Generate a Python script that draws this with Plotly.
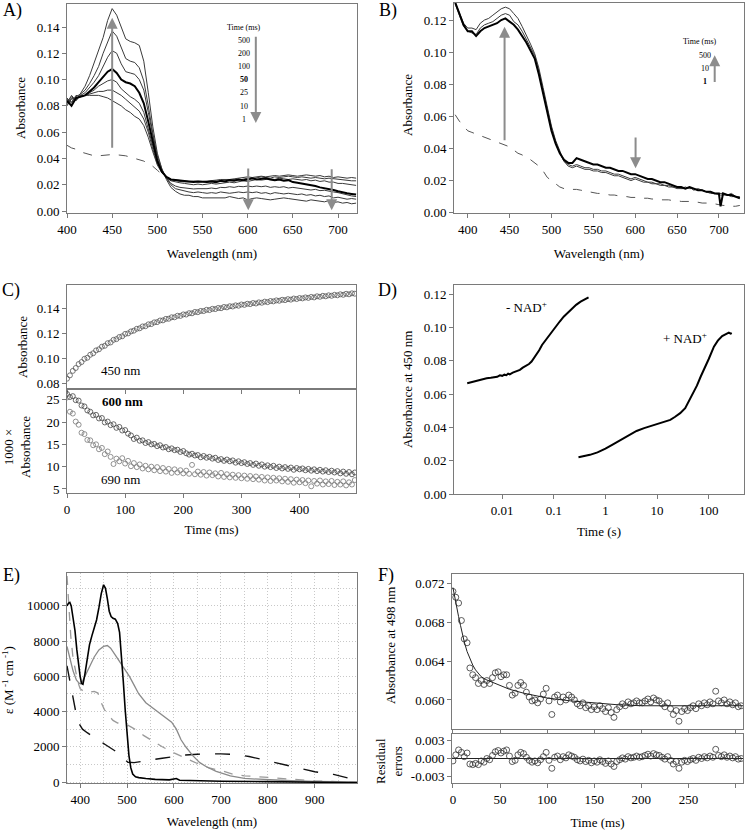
import math
import plotly.graph_objects as go

# ---------------- Panel A data (absorbance vs wavelength, time-resolved) ----------------
wl_a = list(range(400, 721, 5))
a_t500 = [.082,.088,.084,.090,.095,.103,.113,.123,.132,.145,.154,
          .149,.140,.131,.129,.128,.126,.114,.090,.064,.044,
          .032,.024,.018,.015,.013,.012,.012,.011,.011,.0100,
          .0100,.0095,.0100,.0095,.0100,.0110,.0100,.0095,.0100,.0085,
          .0095,.0100,.0095,.0090,.0085,.0090,.0095,.0100,.0095,.0090,
          .0085,.0080,.0075,.0085,.0080,.0075,.0070,.0080,.0065,.0070,
          .0060,.0065,.0055,.0060]
a_t200 = [.085,.083,.087,.089,.092,.097,.103,.110,.120,.129,.137,
          .133,.124,.116,.114,.113,.109,.099,.080,.059,.042,
          .032,.025,.020,.017,.016,.0150,.0145,.0140,.0145,.0140,
          .0135,.0140,.0135,.0145,.0140,.0135,.0140,.0145,.0140,.0145,
          .0140,.0145,.0135,.0140,.0130,.0140,.0135,.0130,.0135,.0130,
          .0125,.0130,.0120,.0125,.0115,.0120,.0110,.0115,.0100,.0105,
          .0095,.0090,.0095,.0090]
a_t100 = [.080,.086,.085,.088,.090,.094,.098,.103,.110,.117,.122,
          .120,.112,.106,.105,.104,.100,.092,.075,.056,.040,
          .031,.025,.021,.019,.018,.0175,.0170,.0168,.0170,.0168,
          .0170,.0175,.0170,.0180,.0178,.0185,.0180,.0188,.0185,.0190,
          .0185,.0190,.0185,.0190,.0180,.0185,.0180,.0185,.0175,.0180,
          .0175,.0170,.0168,.0160,.0165,.0155,.0158,.0150,.0145,.0140,
          .0130,.0125,.0115,.0110]
a_t50 = [.084,.080,.086,.087,.088,.091,.094,.098,.102,.106,.108,
         .105,.100,.098,.097,.095,.090,.082,.068,.052,.038,
         .030,.026,.024,.0235,.023,.0225,.0225,.0220,.0225,.0220,
         .0220,.0225,.0220,.0230,.0225,.0235,.0230,.0240,.0235,.0240,
         .0250,.0240,.0245,.0250,.0240,.0235,.0240,.0230,.0235,.0220,
         .0215,.0210,.0200,.0195,.0190,.0180,.0175,.0165,.0160,.0150,
         .0140,.0135,.0130,.0125]
a_t25 = [.086,.082,.088,.087,.088,.090,.092,.095,.097,.099,.100,
         .098,.093,.090,.087,.085,.082,.075,.063,.050,.037,
         .030,.026,.023,.022,.0215,.0210,.0205,.0200,.0205,.0200,
         .0205,.0210,.0205,.0210,.0215,.0220,.0215,.0220,.0230,.0225,
         .0230,.0240,.0235,.0240,.0245,.0240,.0250,.0245,.0240,.0245,
         .0240,.0235,.0240,.0230,.0235,.0225,.0230,.0220,.0220,.0210,
         .0210,.0205,.0200,.0195]
a_t10 = [.083,.087,.084,.088,.088,.089,.090,.091,.091,.092,.092,
         .090,.088,.085,.082,.079,.076,.070,.060,.047,.036,
         .030,.026,.024,.023,.0225,.0222,.0220,.0222,.0222,.0222,
         .0220,.0225,.0230,.0225,.0230,.0235,.0240,.0235,.0240,.0250,
         .0245,.0250,.0260,.0255,.0250,.0260,.0255,.0260,.0265,.0260,
         .0255,.0260,.0255,.0250,.0255,.0250,.0245,.0250,.0245,.0240,
         .0240,.0235,.0230,.0230]
a_t1 = [.081,.085,.086,.087,.088,.088,.088,.088,.087,.086,.084,
        .082,.080,.077,.075,.072,.070,.065,.056,.045,.035,
        .029,.026,.024,.0235,.0230,.0228,.0225,.0228,.0225,.0225,
        .0228,.0230,.0235,.0240,.0238,.0240,.0245,.0250,.0255,.0260,
        .0255,.0260,.0265,.0260,.0265,.0270,.0265,.0270,.0275,.0270,
        .0265,.0270,.0275,.0270,.0265,.0270,.0260,.0265,.0255,.0260,
        .0255,.0250,.0255,.0250]
wl_a_ref = list(range(400, 516, 5))
a_ref = [.050,.048,.047,.045,.044,.043,.042,.042,.0425,.043,.043,.0428,
         .0425,.042,.041,.040,.039,.038,.036,.034,.031,.028,.025,.023]
a_times = ["500", "200", "100", "50", "25", "10", "1"]

# ---------------- Panel B data ----------------
wl_b = list(range(385, 701, 5)) + [702] + list(range(705, 726, 5))
b_t1 = [.131,.124,.117,.113,.113,.110,.113,.115,.116,.117,
        .118,.120,.121,.119,.117,.114,.110,.106,.101,.096,
        .086,.074,.062,.051,.043,.037,.033,.031,.031,.034,
        .033,.032,.031,.030,.030,.029,.028,.028,.027,.026,
        .026,.025,.024,.024,.023,.022,.021,.021,.020,.019,
        .019,.018,.017,.016,.016,.015,.016,.015,.014,.014,
        .013,.013,.012,.012,
        .004,.012,.011,.011,.010,.009]
b_t10 = [.130,.123,.116,.113,.112,.111,.115,.117,.118,.119,
         .121,.123,.124,.123,.119,.117,.113,.108,.103,.098,
         .088,.076,.064,.053,.044,.037,.032,.030,.029,.030,
         .029,.028,.028,.027,.027,.026,.026,.025,.024,.024,
         .023,.022,.021,.022,.021,.020,.019,.019,.018,.018,
         .017,.017,.016,.016,.015,.015,.016,.014,.015,.014,
         .013,.013,.012,.012,
         .012,.012,.011,.012,.010,.010]
b_t500 = [.131,.125,.118,.115,.115,.114,.118,.120,.121,.123,
          .125,.127,.128,.127,.124,.121,.116,.111,.105,.099,
          .090,.078,.066,.054,.045,.038,.032,.029,.028,.029,
          .028,.027,.027,.026,.026,.025,.025,.024,.023,.023,
          .022,.021,.020,.021,.020,.019,.019,.018,.018,.017,
          .017,.016,.016,.015,.015,.016,.015,.015,.014,.014,
          .013,.012,.012,.011,
          .011,.011,.011,.010,.010,.009]
b_ref = [.061,.057,.054,.051,.050,.049,.048,.047,.046,.045,
         .044,.043,.042,.041,.039,.037,.036,.034,.033,.031,
         .029,.026,.022,.020,.018,.016,.015,.015,.0145,.0145,
         .014,.0135,.013,.0125,.012,.012,.0115,.011,.011,.0105,
         .010,.010,.0095,.0095,.0095,.009,.009,.0085,.0085,.008,
         .008,.008,.0075,.0075,.007,.007,.007,.0065,.0065,.006,
         .006,.0055,.0055,.005,
         .005,.0045,.0045,.004,.004,.0045]
b_times = ["500", "10", "1"]

# ---------------- Panel C data (kinetic traces) ----------------
t_c = list(range(0, 500, 5))
c_450 = [.0835,.0862,.0898,.0921,.0953,.0969,.0995,.1004,.1028,.1040,
         .1063,.1072,.1093,.1100,.1121,.1127,.1148,.1154,.1171,.1177,
         .1196,.1200,.1216,.1222,.1237,.1241,.1256,.1258,.1273,.1275,
         .1289,.1291,.1304,.1305,.1317,.1318,.1330,.1330,.1342,.1341,
         .1353,.1352,.1363,.1362,.1373,.1371,.1381,.1380,.1390,.1388,
         .1398,.1396,.1405,.1403,.1413,.1410,.1419,.1417,.1426,.1423,
         .1433,.1430,.1439,.1436,.1445,.1441,.1450,.1447,.1456,.1452,
         .1461,.1458,.1466,.1463,.1471,.1468,.1476,.1472,.1481,.1477,
         .1485,.1482,.1490,.1486,.1494,.1490,.1499,.1495,.1503,.1499,
         .1507,.1503,.1511,.1507,.1515,.1511,.1519,.1515,.1523,.1520]
c_600 = [26.3,25.6,25.8,24.9,24.8,23.7,23.5,22.6,22.3,21.5,
         21.6,20.8,20.9,19.9,20.1,19.3,19.5,18.7,18.9,18.1,
         18.2,17.4,17.0,16.2,16.5,15.8,15.9,15.3,15.5,15.0,
         15.1,14.6,14.8,14.3,14.4,13.9,14.1,13.7,13.8,13.3,
         13.5,13.0,12.7,12.9,12.5,12.6,12.1,12.4,12.0,12.2,
         11.8,12.0,11.5,11.7,11.3,11.6,11.2,11.4,10.9,11.2,
         10.8,11.0,10.6,10.8,10.4,10.7,10.2,10.5,10.0,10.3,
         9.9,10.2,9.7,10.0,9.6,9.9,9.5,9.8,9.3,9.7,
         9.4,9.6,9.2,9.5,9.1,9.4,9.0,9.3,8.9,9.2,
         8.8,9.1,8.7,9.0,8.5,8.9,8.4,8.8,8.3,8.7]
c_690 = [25.5,22.3,21.9,20.1,19.4,17.6,17.3,16.0,15.9,14.8,
         15.0,13.9,14.2,12.8,13.4,12.2,10.6,11.8,11.2,11.9,
         10.7,11.3,10.1,10.8,9.9,10.5,9.6,10.2,9.4,10.0,
         9.2,9.9,9.0,9.7,8.9,9.5,8.6,9.4,8.7,9.2,
         8.5,9.1,8.4,10.4,8.3,8.9,8.2,8.8,8.0,8.7,
         8.1,8.5,7.8,8.6,7.7,8.3,7.6,8.2,7.5,8.1,
         7.4,8.0,7.3,7.9,7.2,7.8,7.1,7.7,6.9,7.6,
         6.8,7.5,6.9,7.4,6.7,7.3,6.6,7.2,6.4,7.1,
         6.5,7.0,6.3,6.9,5.6,6.8,6.2,6.9,6.0,6.7,
         6.1,6.8,5.9,6.6,6.0,6.7,5.8,6.5,6.0,7.0]

# ---------------- Panel D data (log time) ----------------
d_minus_t = [0.0021,0.003,0.004,0.005,0.006,0.007,0.008,0.009,0.010,0.011,
             0.012,0.013,0.014,0.016,0.018,0.020,0.022,0.025,0.029,0.033,
             0.037,0.040,0.045,0.052,0.059,0.068,0.079,0.09,0.107,0.13,
             0.155,0.19,0.224,0.27,0.33,0.40,0.47]
d_minus_v = [.0665,.0678,.0688,.0694,.0697,.0700,.0703,.0712,.0709,.0716,
             .0713,.0722,.0718,.0728,.0733,.0740,.0745,.0758,.0768,.0780,
             .0795,.0810,.0834,.0862,.0894,.0920,.0948,.0975,.1004,.1035,
             .1064,.1090,.1114,.1135,.1154,.1168,.1180]
d_plus_t = [0.30,0.40,0.5,0.7,1.0,1.4,2.0,2.8,4.0,5.6,
            8,11,14,18,22,28,35,41,50,59,
            70,87,100,126,150,182,210,245,265,280]
d_plus_v = [.0220,.0228,.0235,.0250,.0272,.0298,.0325,.0355,.0378,.0395,
            .0410,.0422,.0432,.0445,.0462,.0485,.0515,.0555,.0600,.0650,
            .0705,.0765,.0810,.0884,.0920,.0948,.0960,.0968,.0962,.0965]

# ---------------- Panel E data (extinction spectra) ----------------
e_blk_x = [372,375,378,381,385,389,393,397,400,403,406,410,415,420,425,430,435,440,445,450,
           454,458,462,466,470,475,480,484,488,492,496,500,504,508,512,518,525,540,560,590,
           600,605,612,650,700,800,900,990]
e_blk_y = [10000,10150,10200,10000,9300,8600,7500,6500,6000,5600,5550,6100,7000,7800,8300,8800,9200,9900,10700,11200,
           11000,10400,9700,9400,9300,9250,9000,8500,7300,5700,4100,2800,1500,800,450,300,250,200,150,120,
           150,200,100,60,40,20,0,-40]
e_gry_x = [372,378,385,392,398,403,410,420,430,440,450,458,465,475,485,495,505,515,525,540,
           555,570,585,595,605,615,625,640,655,670,690,720,750,800,850,900,990]
e_gry_y = [7700,7000,6300,5800,5600,5600,6000,6600,7100,7500,7700,7750,7600,7200,6800,6400,6000,5500,5000,4500,
           4200,3900,3650,3400,3000,2400,2000,1500,1100,850,600,350,200,120,70,30,0]
e_gd_x = [372,376,380,385,390,395,400,410,420,430,438,445,452,460,470,480,490,500,510,520,
          535,550,575,600,625,650,675,700,725,750,780,810,850,900,950,990]
e_gd_y = [11700,10000,8300,7000,6300,5700,5300,5100,5100,5150,5050,4500,4100,3800,3500,3350,3300,3250,3100,2950,
          2650,2400,2000,1650,1350,1050,800,650,450,350,300,250,150,60,20,0]
e_bd_x = [372,378,385,392,398,405,415,425,440,455,470,480,490,496,502,515,530,550,575,600,
          625,650,700,730,760,800,840,870,900,940,970,990]
e_bd_y = [6600,5700,4700,3800,3300,3000,2800,2600,2350,2100,1850,1700,1500,1250,1120,1100,1150,1250,1350,1450,
          1530,1580,1600,1560,1450,1200,950,760,580,430,250,100]

# ---------------- Panel F data (498 nm trace, fit, residuals) ----------------
t_f = list(range(0, 307, 3))
f_abs = [.0712,.0706,.0700,.0682,.0663,.0659,.0633,.0626,.0623,.0617,
         .0620,.0616,.0620,.0617,.0623,.0628,.0629,.0624,.0626,.0626,
         .0615,.0605,.0607,.0615,.0618,.0615,.0608,.0603,.0599,.0600,
         .0597,.0601,.0606,.0612,.0599,.0585,.0603,.0605,.0598,.0603,
         .0600,.0605,.0603,.0600,.0596,.0594,.0597,.0592,.0594,.0590,
         .0593,.0590,.0594,.0591,.0588,.0592,.0587,.0582,.0590,.0593,
         .0596,.0594,.0598,.0596,.0597,.0599,.0597,.0597,.0599,.0601,
         .0598,.0602,.0600,.0599,.0596,.0593,.0597,.0591,.0585,.0589,
         .0578,.0588,.0591,.0589,.0592,.0594,.0591,.0596,.0594,.0597,
         .0595,.0598,.0596,.0609,.0599,.0597,.0600,.0596,.0598,.0595,
         .0597,.0593,.0594]
f_res = [-.0004,.0006,.0014,.0010,.0003,.0009,-.0009,-.0010,-.0008,-.0010,
         -.0004,-.0006,.0000,-.0002,.0005,.0011,.0013,.0009,.0012,.0014,
         .0004,-.0005,-.0003,.0006,.0010,.0008,.0002,-.0003,-.0006,-.0004,
         -.0007,-.0002,.0003,.0010,-.0003,-.0016,.0002,.0004,-.0002,.0003,
         .0001,.0006,.0004,.0002,-.0002,-.0004,-.0001,-.0005,-.0003,-.0007,
         -.0004,-.0006,-.0002,-.0005,-.0008,-.0004,-.0009,-.0013,-.0005,-.0002,
         .0001,-.0001,.0003,.0001,.0002,.0004,.0002,.0003,.0005,.0007,
         .0004,.0008,.0006,.0005,.0002,-.0001,.0003,-.0003,-.0009,-.0005,
         -.0016,-.0006,-.0003,-.0005,-.0002,.0000,-.0003,.0002,.0000,.0003,
         .0001,.0004,.0002,.0015,.0005,.0003,.0006,.0002,.0004,.0001,
         .0003,-.0001,.0000]
f_fit_t = [0,2,4,6,8,10,12,15,18,21,24,27,30,35,40,50,60,75,100,125,150,175,200,250,308]
f_fit_v = [.0716,.0705,.0695,.0686,.0677,.0668,.0660,.0650,.0642,.0636,.0631,.0627,.0624,.0621,
           .0619,.0615,.0611,.0607,.0602,.0599,.0597,.0595,.0594,.0594,.0594]


def chk(name, a, b):
    if len(a) != len(b):
        raise ValueError(f"{name}: {len(a)} vs {len(b)}")


for nm, arr in [("a500", a_t500), ("a200", a_t200), ("a100", a_t100), ("a50", a_t50),
                ("a25", a_t25), ("a10", a_t10), ("a1", a_t1)]:
    chk(nm, wl_a, arr)
chk("aref", wl_a_ref, a_ref)
for nm, arr in [("b1", b_t1), ("b10", b_t10), ("b500", b_t500), ("bref", b_ref)]:
    chk(nm, wl_b, arr)
for nm, arr in [("c450", c_450), ("c600", c_600), ("c690", c_690)]:
    chk(nm, t_c, arr)
chk("dm", d_minus_t, d_minus_v)
chk("dp", d_plus_t, d_plus_v)
chk("eb", e_blk_x, e_blk_y)
chk("eg", e_gry_x, e_gry_y)
chk("egd", e_gd_x, e_gd_y)
chk("ebd", e_bd_x, e_bd_y)
chk("fa", t_f, f_abs)
chk("fr", t_f, f_res)
chk("ff", f_fit_t, f_fit_v)

# ---------------- Figure ----------------
W, H = 745, 830
FONT = "Liberation Serif"
FRAME = "#7a7a7a"


def xd(a, b):
    return [a / W, b / W]


def yd(top, bot):
    return [1 - bot / H, 1 - top / H]


fig = go.Figure()


def line(x, y, xa, ya, color="#333", width=1, dash=None):
    fig.add_trace(go.Scatter(x=x, y=y, xaxis=xa, yaxis=ya, mode="lines",
                             line=dict(color=color, width=width, dash=dash),
                             hoverinfo="skip"))


def pts(x, y, xa, ya, color="#444", size=4, lw=0.8):
    fig.add_trace(go.Scatter(x=x, y=y, xaxis=xa, yaxis=ya, mode="markers",
                             marker=dict(symbol="circle-open", size=size, color=color,
                                         line=dict(width=lw, color=color)),
                             hoverinfo="skip"))


# Panel A
line(wl_a_ref, a_ref, "x", "y", color="#555", width=1, dash="dash")
for arr in [a_t500, a_t200, a_t100, a_t25, a_t10, a_t1]:
    line(wl_a, arr, "x", "y", color="#3a3a3a", width=1)
line(wl_a, a_t50, "x", "y", color="#000", width=2)

# Panel B
line(wl_b, b_ref, "x2", "y2", color="#555", width=1, dash="dash")
line(wl_b, b_t500, "x2", "y2", color="#3a3a3a", width=1)
line(wl_b, b_t10, "x2", "y2", color="#3a3a3a", width=1)
line(wl_b, b_t1, "x2", "y2", color="#000", width=2)

# Panel C
pts(t_c, c_450, "x3", "y3", color="#555", size=5)
pts(t_c, c_600, "x4", "y4", color="#444", size=5)
pts(t_c, c_690, "x4", "y4", color="#777", size=5)

# Panel D
line(d_minus_t, d_minus_v, "x5", "y5", color="#000", width=2)
line(d_plus_t, d_plus_v, "x5", "y5", color="#000", width=2)

# Panel E
line(e_bd_x, e_bd_y, "x6", "y6", color="#111", width=1.4, dash="longdash")
line(e_gd_x, e_gd_y, "x6", "y6", color="#9a9a9a", width=1.3, dash="dash")
line(e_gry_x, e_gry_y, "x6", "y6", color="#8a8a8a", width=1.3)
line(e_blk_x, e_blk_y, "x6", "y6", color="#000", width=1.6)

# Panel F
pts(t_f, f_abs, "x7", "y7", color="#333", size=6, lw=0.8)
line(f_fit_t, f_fit_v, "x7", "y7", color="#222", width=1)
pts(t_f, f_res, "x8", "y8", color="#333", size=6, lw=0.8)

tf = dict(size=13, color="black", family=FONT)


def ax(domain, rng, anchor, title=None, standoff=6, **kw):
    d = dict(domain=domain, range=rng, anchor=anchor, showline=True, linecolor=FRAME,
             linewidth=1, mirror=True, ticks="outside", ticklen=4, tickcolor=FRAME,
             showgrid=False, zeroline=False, tickfont=tf, automargin=False)
    if title:
        d["title"] = dict(text=title, font=tf, standoff=standoff)
    d.update(kw)
    return d


GRID = dict(showgrid=True, gridcolor="#c8c8c8", griddash="1px,2px", gridwidth=1)

layout = dict(
    width=W, height=H, margin=dict(l=0, r=0, t=0, b=0),
    paper_bgcolor="white", plot_bgcolor="white", showlegend=False,
    font=dict(family=FONT, color="black"), template="none",
    # A
    xaxis=ax(xd(67, 357), [400, 721], "y", "Wavelength (nm)", standoff=13,
             tickvals=[400, 450, 500, 550, 600, 650, 700]),
    yaxis=ax(yd(4, 213), [-0.0015, 0.1575], "x",
             tickvals=[0, .02, .04, .06, .08, .10, .12, .14], tickformat=".2f"),
    # B
    xaxis2=ax(xd(454, 744), [383.6, 730], "y2", "Wavelength (nm)", standoff=13,
              tickvals=[400, 450, 500, 550, 600, 650, 700]),
    yaxis2=ax(yd(3, 213), [-0.0002, 0.1306], "x2",
              tickvals=[0, .02, .04, .06, .08, .10, .12], tickformat=".2f"),
    # C top / bottom
    xaxis3=ax(xd(67, 356), [0, 497], "y3", showticklabels=False,
              tickvals=[0, 100, 200, 300, 400]),
    yaxis3=ax(yd(285, 389), [0.0752, 0.159], "x3",
              tickvals=[.08, .10, .12, .14], tickformat=".2f"),
    xaxis4=ax(xd(67, 356), [0, 497], "y4", "Time (ms)", standoff=9,
              tickvals=[0, 100, 200, 300, 400]),
    yaxis4=ax(yd(389, 493), [4.1, 27.4], "x4",
              tickvals=[5, 10, 15, 20, 25]),
    # D
    xaxis5=ax(xd(454, 744), [-2.934, 2.683], "y5", "Time (s)", standoff=10, type="log",
              tickvals=[0.01, 0.1, 1, 10, 100], ticktext=["0.01", "0.1", "1", "10", "100"]),
    yaxis5=ax(yd(285, 494), [0, 0.1254], "x5",
              tickvals=[0, .02, .04, .06, .08, .10, .12], tickformat=".2f"),
    # E
    xaxis6=ax(xd(67, 357), [372, 990], "y6", "Wavelength (nm)", standoff=11,
              tickvals=[400, 500, 600, 700, 800, 900], **GRID,
              minor=dict(tickvals=[450, 550, 650, 750, 850, 950], ticks="", **GRID)),
    yaxis6=ax(yd(573, 783), [-57, 11870], "x6",
              tickvals=[0, 2000, 4000, 6000, 8000, 10000], tickformat="d", **GRID,
              minor=dict(tickvals=[1000, 3000, 5000, 7000, 9000, 11000], ticks="", **GRID)),
    # F
    xaxis7=ax(xd(452, 743), [-1, 308], "y7", showticklabels=False,
              tickvals=[0, 50, 100, 150, 200, 250, 300]),
    yaxis7=ax(yd(574, 729), [0.0570, 0.0730], "x7",
              tickvals=[.060, .064, .068, .072], tickformat=".3f"),
    xaxis8=ax(xd(452, 743), [-1, 308], "y8", "Time (ms)", standoff=13,
              tickvals=[0, 50, 100, 150, 200, 250, 300]),
    yaxis8=ax(yd(734, 783), [-0.004, 0.004], "x8",
              tickvals=[-0.003, 0, 0.003], ticktext=["-0.003", "0.000", "0.003"],
              zeroline=True, zerolinecolor="#222", zerolinewidth=1),
)
fig.update_layout(**layout)

ann = []
ARROW = "#8c8c8c"


def arrow(xr, yr, x0, y0, x1, y1):
    ann.append(dict(xref=xr, yref=yr, axref=xr, ayref=yr, x=x1, y=y1, ax=x0, ay=y0,
                    text="", showarrow=True, arrowhead=2, arrowsize=1.1, arrowwidth=2,
                    arrowcolor=ARROW, standoff=0, startstandoff=0))


def txt(xr, yr, x, y, s, size=13, **kw):
    d = dict(xref=xr, yref=yr, x=x, y=y, text=s, showarrow=False,
             xanchor="center", yanchor="middle",
             font=dict(size=size, family=FONT, color="black"))
    d.update(kw)
    ann.append(d)


def ytitle(px, py, s):
    txt("paper", "paper", px / W, 1 - py / H, s, size=13, textangle=-90)


# panel letters
for lab, px, py in [("A)", 12, 11), ("B)", 388, 11), ("C)", 11, 290),
                    ("D)", 388, 290), ("E)", 11, 575), ("F)", 386, 575)]:
    txt("paper", "paper", px / W, 1 - py / H, lab, size=18)

# y-axis titles
ytitle(20, 108, "Absorbance")
ytitle(407, 105, "Absorbance")
ytitle(22, 347, "Absorbance")
ytitle(17, 447, "1000 ×<br>Absorbance")
ytitle(407, 390, "Absorbance at 450 nm")
ytitle(8, 680, "ε (M<sup> -1</sup> cm<sup> -1</sup>)")
ytitle(390, 646, "Absorbance at 498 nm")
ytitle(389, 761, "Residual<br>errors")

# A arrows and legend
arrow("x", "y", 450, 0.047, 450, 0.147)
arrow("x", "y", 600.6, 0.0335, 600.6, 0.0005)
arrow("x", "y", 693, 0.033, 693, 0.0005)
arrow("x", "y", 609, 0.1337, 609, 0.067)
txt("x", "y", 596, 0.1395, "Time (ms)", size=8)
for i, lab in enumerate(a_times):
    s = "<b>%s</b>" % lab if lab == "50" else lab
    txt("x", "y", 596, 0.130 - i * 0.01003, s, size=8)

# B arrows and legend
arrow("x2", "y2", 444, 0.0442, 444, 0.1158)
arrow("x2", "y2", 600.5, 0.0477, 600.5, 0.0276)
arrow("x2", "y2", 695, 0.0805, 695, 0.098)
txt("x2", "y2", 678, 0.1065, "Time (ms)", size=8)
for i, lab in enumerate(b_times):
    s = "<b>%s</b>" % lab if lab == "1" else lab
    txt("x2", "y2", 683, 0.098 - i * 0.0082, s, size=8)

# C labels
txt("x3", "y3", 92, 0.0902, "450 nm")
txt("x4", "y4", 95, 24.6, "<b>600 nm</b>")
txt("x4", "y4", 92, 7.2, "690 nm")

# D labels
txt("x5", "y5", math.log10(0.03), 0.1124, "- NAD<sup>+</sup>")
txt("x5", "y5", math.log10(35), 0.0934, "+ NAD<sup>+</sup>")

fig.update_layout(annotations=ann)
fig.write_html("out.html", config={"displayModeBar": False},
               post_script="document.body.style.margin='0';")
